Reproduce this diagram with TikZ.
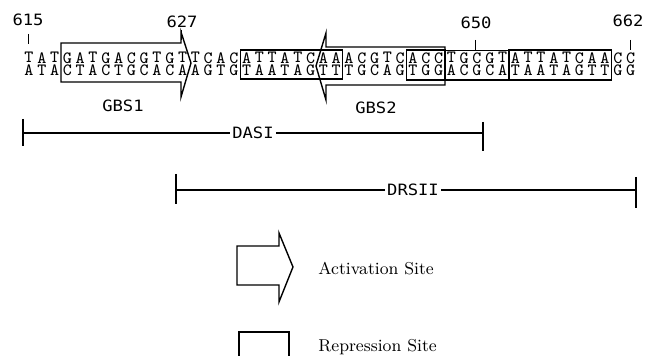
\documentclass[tikz,border=0pt]{standalone}
\usepackage{fontspec}
\newfontfamily\labfont[FakeStretch=1.1]{DejaVu Sans Mono}
\tikzset{
  seqpicture/.style={x=0.5pt, y=-0.5pt},
  seqcol/.style={inner sep=0pt, align=center, anchor=north, font=\ttfamily\fontsize{8.6}{6.1}\selectfont},
  seqlabel/.style={inner sep=1pt, font=\labfont\fontsize{7.8}{9}\selectfont},
  seqtick/.style={line width=0.5pt},
  actsite/.style={draw, line width=0.7pt, line join=miter},
  repsite/.style={draw, line width=0.6pt},
  rangeline/.style={line width=0.55pt},
  legendtext/.style={anchor=west, inner sep=0pt, font=\fontsize{8.6}{10}\selectfont}
}

\begin{document}
\begin{tikzpicture}[seqpicture]
\useasboundingbox (0,0) rectangle (645,356);
% position numbers
\node[seqlabel] (n615) at (28,20) {615};
\node[seqlabel] (n627) at (182,22) {627};
\node[seqlabel] (n650) at (476,23) {650};
\node[seqlabel] (n662) at (628,21) {662};
\draw[seqtick] (29,34) -- (29,44);
\draw[seqtick] (182,30) -- (182,40);
\draw[seqtick] (476,40) -- (476,50);
\draw[seqtick] (631,40) -- (631,50);
% both strands, one column per position
\foreach \fw/\rv [count=\i] in {T/A,A/T,T/A,G/C,A/T,T/A,G/C,A/T,C/G,G/C,T/A,G/C,T/A,T/A,C/G,A/T,C/G,
  A/T,T/A,T/A,A/T,T/A,C/G,A/T,A/T,A/T,C/G,G/C,T/A,C/G,A/T,C/G,C/G,T/A,G/C,C/G,G/C,T/A,
  A/T,T/A,T/A,A/T,T/A,C/G,A/T,A/T,C/G,C/G}{
  \node[seqcol] (s\i) at ({22.6+12.8*(\i-0.5)},52) {\fw\\\rv};
}
% activation sites
\draw[actsite] (61,43) -- (181,43) -- (181,32) -- (191,63) -- (181,97) -- (181,82) -- (61,82) -- cycle;
\node[seqlabel] (gbs1) at (123,106) {GBS1};
\draw[actsite] (445,47) -- (326,47) -- (326,33) -- (316,66) -- (326,100) -- (326,85) -- (445,85) -- cycle;
\node[seqlabel] (gbs2) at (376,108) {GBS2};
% repression sites
\draw[repsite] (240.2,50) rectangle (342.6,79);
\draw[repsite] (406.6,50) rectangle (445,80);
\draw[repsite] (445,50.5) rectangle (509,80);
\draw[repsite] (509,50) rectangle (611.4,80);
% deletion ranges
\node[seqlabel] (dasi) at (253,133) {DASI};
\coordinate (dasiL) at (23,133);
\coordinate (dasiR) at (483,133);
\draw[rangeline] (dasiL) -- (dasi) -- (dasiR);
\draw[rangeline] (23,119) -- (23,146);
\draw[rangeline] (483,122) -- (483,151);
\node[seqlabel] (drsii) at (413,190) {DRSII};
\coordinate (drsiiL) at (176,190);
\coordinate (drsiiR) at (636,190);
\draw[rangeline] (drsiiL) -- (drsii) -- (drsiiR);
\draw[rangeline] (176,174) -- (176,204);
\draw[rangeline] (636,177) -- (636,208);
% legend
\draw[actsite] (237,246) -- (279,246) -- (279,233) -- (293,267) -- (279,302) -- (279,285) -- (237,285) -- cycle;
\node[legendtext] (actlab) at (318,269) {Activation Site};
\draw[repsite] (239,358) -- (239,332) -- (289,332) -- (289,358);
\node[legendtext] (replab) at (318,347) {Repression Site};
\end{tikzpicture}
\end{document}
